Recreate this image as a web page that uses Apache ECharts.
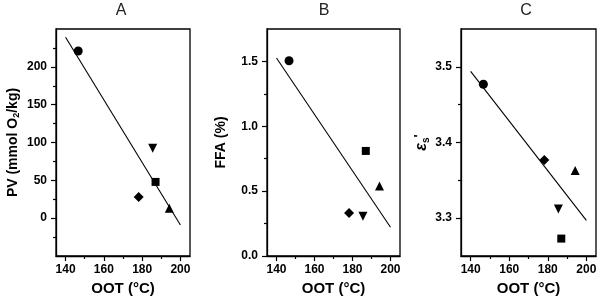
<!DOCTYPE html>
<html>
<head>
<meta charset="utf-8">
<script src="https://cdn.jsdelivr.net/npm/echarts@6/dist/echarts.min.js"></script>
<style>html,body{margin:0;padding:0;background:#fff}#c{width:600px;height:303px}</style>
</head>
<body>
<div id="c"></div>
<script>
// Samples (marker shapes)
const samples = ['square', 'circle', 'up', 'down', 'diamond'];
const oot = [187.0, 146.6, 194.2, 185.5, 178.2];
const pv = [47.9, 221, 13.2, 92.3, 28];
const ffa = [0.81, 1.505, 0.54, 0.306, 0.332];
const eps = [3.273, 3.477, 3.363, 3.312, 3.377];
// Fitted lines (end points)
const fitX = [140, 200];
const fitPV = [239, -9];
const fitFFA = [1.526, 0.222];
const fitEps = [3.494, 3.297];
// Tick values
const xTicks = [140, 160, 180, 200];
const xMinor = [150, 170, 190];
const pvTicks = [0, 50, 100, 150, 200];
const pvMinor = [-25, 25, 75, 125, 175, 225];
const ffaTicks = [0, 0.5, 1.0, 1.5];
const ffaMinor = [0.25, 0.75, 1.25];
const epsTicks = [3.3, 3.4, 3.5];
const epsMinor = [3.35, 3.45];
const panelTitles = ['A', 'B', 'C'];

const FONT = '"Liberation Sans", Arial, sans-serif';
const shapes = {
  square: {symbol: 'rect', size: 8, rotate: 0},
  circle: {symbol: 'circle', size: 9, rotate: 0},
  up: {symbol: 'triangle', size: 9, rotate: 0},
  down: {symbol: 'triangle', size: 9, rotate: 180},
  diamond: {symbol: 'diamond', size: 10, rotate: 0}
};

const grids = [
  {left: 56, width: 134, top: 29, height: 227},
  {left: 267, width: 133, top: 29, height: 227},
  {left: 461, width: 135, top: 29, height: 227}
];
const yDefs = [
  {min: -50, max: 250, ticks: pvTicks, minor: pvMinor, fmt: v => String(v), vals: pv, fit: fitPV,
   name: '{a|PV (mmol O}{b|2}{a|/kg)}', gap: 35},
  {min: 0, max: 1.75, ticks: ffaTicks, minor: ffaMinor, fmt: v => v.toFixed(1), vals: ffa, fit: fitFFA,
   name: '{a|FFA (%)}', gap: 38},
  {min: 3.25, max: 3.55, ticks: epsTicks, minor: epsMinor, fmt: v => v.toFixed(1), vals: eps, fit: fitEps,
   name: '{e|ε}{s|s}{p|\'}', gap: 30}
];

const rich = {
  a: {fontSize: 14, fontWeight: 'bold', fontFamily: FONT, color: '#000', lineHeight: 16, verticalAlign: 'middle'},
  b: {fontSize: 9, fontWeight: 'bold', fontFamily: FONT, color: '#000', lineHeight: 9, verticalAlign: 'bottom'},
  e: {fontSize: 16, fontStyle: 'italic', fontFamily: FONT, color: '#000', lineHeight: 16, verticalAlign: 'middle'},
  s: {fontSize: 10, fontFamily: FONT, color: '#000', lineHeight: 9, verticalAlign: 'bottom'},
  p: {fontSize: 13, fontWeight: 'bold', fontFamily: FONT, color: '#000', lineHeight: 18, verticalAlign: 'top'}
};

const xAxis = [], yAxis = [], series = [], grid = [], graphic = [];
grids.forEach((g, i) => {
  grid.push(Object.assign({show: true, borderColor: '#000', borderWidth: 1.3, backgroundColor: 'transparent'}, g));
  const yd = yDefs[i];
  // major x axis
  xAxis.push({
    type: 'value', gridIndex: i, min: 135, max: 205, position: 'bottom',
    name: 'OOT (°C)', nameLocation: 'middle', nameGap: 25,
    nameTextStyle: {fontSize: 15, fontWeight: 'bold', fontFamily: FONT, color: '#000'},
    axisLine: {show: true, onZero: false, lineStyle: {color: '#000', width: 1.3}},
    axisTick: {show: true, length: 5, customValues: xTicks, lineStyle: {color: '#000', width: 1.2}},
    axisLabel: {show: true, customValues: xTicks, margin: 8, fontSize: 12, fontWeight: 'bold', fontFamily: FONT, color: '#000'},
    splitLine: {show: false}
  });
  // minor x axis
  xAxis.push({
    type: 'value', gridIndex: i, min: 135, max: 205, position: 'bottom',
    axisLine: {show: false, onZero: false},
    axisTick: {show: true, length: 3, customValues: xMinor, lineStyle: {color: '#000', width: 1.2}},
    axisLabel: {show: false}, splitLine: {show: false}
  });
  yAxis.push({
    type: 'value', gridIndex: i, min: yd.min, max: yd.max, position: 'left',
    name: yd.name, nameLocation: 'middle', nameGap: yd.gap, nameRotate: 90,
    nameTextStyle: {rich: rich, fontSize: 14, fontWeight: 'bold', fontFamily: FONT, color: '#000'},
    axisLine: {show: true, onZero: false, lineStyle: {color: '#000', width: 1.3}},
    axisTick: {show: true, length: 5, customValues: yd.ticks, lineStyle: {color: '#000', width: 1.2}},
    axisLabel: {show: true, customValues: yd.ticks, formatter: yd.fmt, margin: 9, fontSize: 12, fontWeight: 'bold', fontFamily: FONT, color: '#000'},
    splitLine: {show: false}
  });
  yAxis.push({
    type: 'value', gridIndex: i, min: yd.min, max: yd.max, position: 'left',
    axisLine: {show: false, onZero: false},
    axisTick: {show: true, length: 3, customValues: yd.minor, lineStyle: {color: '#000', width: 1.2}},
    axisLabel: {show: false}, splitLine: {show: false}
  });
  series.push({
    type: 'line', xAxisIndex: 2 * i, yAxisIndex: 2 * i, symbol: 'none', silent: true,
    lineStyle: {color: '#000', width: 1.1},
    data: fitX.map((x, k) => [x, yd.fit[k]]), z: 2
  });
  series.push({
    type: 'scatter', xAxisIndex: 2 * i, yAxisIndex: 2 * i, z: 3,
    itemStyle: {color: '#000', opacity: 1},
    data: samples.map((s, k) => ({
      value: [oot[k], yd.vals[k]],
      symbol: shapes[s].symbol, symbolSize: shapes[s].size, symbolRotate: shapes[s].rotate
    }))
  });
});

const titleX = [121, 324, 526];
panelTitles.forEach((t, i) => {
  graphic.push({type: 'text', x: titleX[i], y: 11,
    style: {text: t, fill: '#222', font: '16px ' + FONT, align: 'center', verticalAlign: 'middle'}});
});

const chart = echarts.init(document.getElementById('c'), null, {renderer: 'canvas'});
chart.setOption({animation: false, grid, xAxis, yAxis, series, graphic});
</script>
</body>
</html>
